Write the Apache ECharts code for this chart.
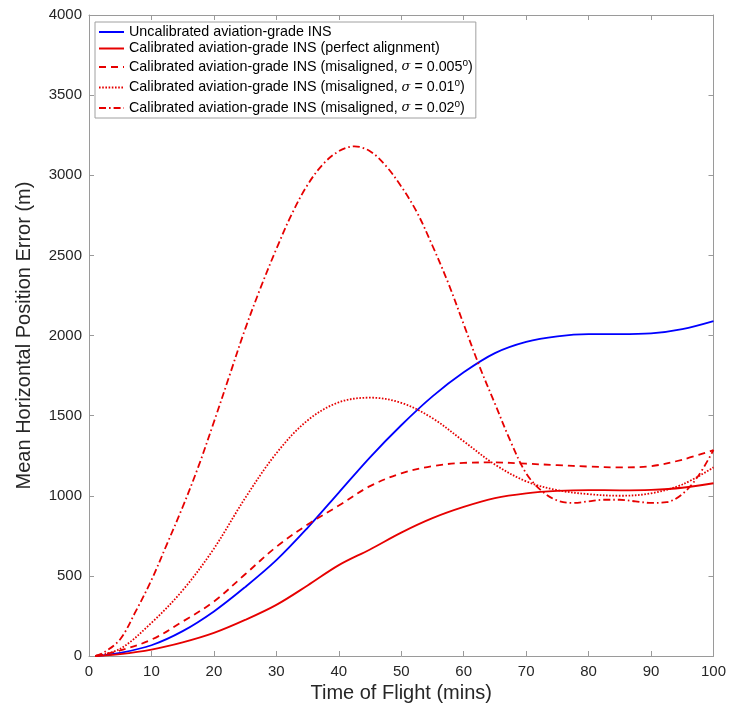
<!DOCTYPE html>
<html>
<head>
<meta charset="utf-8">
<script src="https://cdn.jsdelivr.net/npm/echarts@6/dist/echarts.min.js"></script>
<style>
html,body{margin:0;padding:0;background:#fff;}
#chart{width:729px;height:713px;}
</style>
</head>
<body>
<div id="chart"></div>
<script>
// Time of flight (mins)
var tCoarse = [1, 5, 10, 15, 20, 25, 30, 35, 40, 45, 50, 55, 60, 65, 70, 75, 80, 85, 90, 95, 100];
var tFine = [1, 2.5, 5, 7.5, 10, 12.5, 15, 17.5, 20, 22.5, 25, 27.5, 30, 32.5, 35, 37.5, 40, 42.5, 45, 47.5, 50, 52.5, 55, 57.5, 60, 62.5, 65, 67.5, 70, 72.5, 75, 77.5, 80, 82.5, 85, 87.5, 90, 92.5, 95, 97.5, 100];

// Mean horizontal position error (m)
var uncalibrated = [0, 20, 67, 155, 278, 430, 598, 800, 1020, 1240, 1440, 1620, 1770, 1890, 1960, 1995, 2008, 2008, 2013, 2040, 2090];
var calibratedPerfect = [0, 12, 40, 85, 144, 225, 319, 440, 567, 665, 770, 860, 930, 985, 1015, 1030, 1035, 1034, 1037, 1050, 1078];
var misaligned005 = [0, 35, 102, 215, 340, 510, 681, 820, 939, 1060, 1140, 1185, 1205, 1208, 1200, 1191, 1182, 1177, 1185, 1225, 1285];
var misaligned01 = [0, 45, 207, 410, 670, 985, 1265, 1470, 1583, 1612, 1580, 1484, 1340, 1195, 1090, 1035, 1010, 1000, 1015, 1070, 1177];
var misaligned02 = [0, 25, 105, 280, 474, 700, 930, 1180, 1460, 1750, 2040, 2300, 2540, 2760, 2940, 3070, 3150, 3180, 3150, 3060, 2930, 2770, 2560, 2330, 2070, 1810, 1575, 1340, 1140, 1030, 970, 955, 965, 975, 975, 965, 955, 960, 1010, 1120, 1285];

var xTicks = {min: 0, max: 100, interval: 10};
var yTicks = {min: 0, max: 4000, interval: 500};

var seriesNames = [
  'Uncalibrated aviation-grade INS',
  'Calibrated aviation-grade INS (perfect alignment)',
  'Calibrated aviation-grade INS (misaligned, σ = 0.005°)',
  'Calibrated aviation-grade INS (misaligned, σ = 0.01°)',
  'Calibrated aviation-grade INS (misaligned, σ = 0.02°)'
];
var sigmaValues = [null, null, '0.005', '0.01', '0.02'];

function pairs(xs, ys) {
  var out = [];
  for (var i = 0; i < xs.length; i++) out.push([xs[i], ys[i]]);
  return out;
}

var BLUE = '#0000ff';
var RED = '#e60000';
var FONT = '"Liberation Sans", Arial, Helvetica, sans-serif';
var AXIS_GRAY = '#9a9a9a';
var TEXT = '#262626';

var chart = echarts.init(document.getElementById('chart'), null, {renderer: 'canvas'});

function mkSeries(name, data, color, type) {
  return {
    name: name,
    type: 'line',
    data: data,
    xAxisIndex: 0,
    yAxisIndex: 0,
    symbol: 'none',
    showSymbol: false,
    smooth: 0.35,
    lineStyle: {color: color, width: 1.8, type: type},
    itemStyle: {color: color},
    animation: false
  };
}

function plain(v) { return String(v); }

function axisBase(t) {
  return {
    type: 'value', min: t.min, max: t.max, interval: t.interval,
    axisLine: {show: true, onZero: false, lineStyle: {color: AXIS_GRAY, width: 1}},
    axisTick: {show: true, inside: true, length: 5, lineStyle: {color: AXIS_GRAY}},
    splitLine: {show: false}
  };
}

var option = {
  backgroundColor: '#ffffff',
  animation: false,
  textStyle: {fontFamily: FONT},
  grid: {left: 89, right: 12, top: 15, bottom: 57, containLabel: false},
  legend: {
    orient: 'vertical',
    left: 95,
    top: 22,
    padding: [3, 3, 1, 3],
    itemGap: 2.5,
    itemWidth: 25,
    itemHeight: 12,
    backgroundColor: '#ffffff',
    borderColor: '#a0a0a0',
    borderWidth: 1,
    itemStyle: {opacity: 0},
    data: seriesNames,
    formatter: function (name) {
      var idx = seriesNames.indexOf(name);
      if (sigmaValues[idx] === null) return '{t|' + name + '}';
      return '{t|Calibrated aviation-grade INS (misaligned, }{s|σ}{t| = ' + sigmaValues[idx] + '}{sup|o}{t|)}';
    },
    textStyle: {
      fontFamily: FONT,
      fontSize: 14.3,
      color: '#000000',
      rich: {
        t: {fontFamily: FONT, fontSize: 14.3, color: '#000', lineHeight: 16},
        s: {fontFamily: '"DejaVu Serif", "Liberation Serif", serif', fontStyle: 'italic', fontSize: 13, color: '#000', lineHeight: 16},
        sup: {fontFamily: FONT, fontSize: 10, color: '#000', lineHeight: 10, padding: [0, 0, 8, 0]}
      }
    }
  },
  xAxis: [
    Object.assign(axisBase(xTicks), {
      position: 'bottom',
      name: 'Time of Flight (mins)',
      nameLocation: 'middle',
      nameGap: 25,
      nameTextStyle: {fontFamily: FONT, fontSize: 20, color: TEXT},
      axisLabel: {show: true, margin: 8, fontFamily: FONT, fontSize: 15, color: TEXT, formatter: plain}
    }),
    Object.assign(axisBase(xTicks), {
      position: 'top',
      axisLabel: {show: false}
    })
  ],
  yAxis: [
    Object.assign(axisBase(yTicks), {
      position: 'left',
      name: 'Mean Horizontal Position Error (m)',
      nameLocation: 'middle',
      nameGap: 55,
      nameTextStyle: {fontFamily: FONT, fontSize: 20, color: TEXT},
      axisLabel: {show: true, margin: 7, fontFamily: FONT, fontSize: 15, color: TEXT, formatter: plain}
    }),
    Object.assign(axisBase(yTicks), {
      position: 'right',
      axisLabel: {show: false}
    })
  ],
  series: [
    mkSeries(seriesNames[0], pairs(tCoarse, uncalibrated), BLUE, 'solid'),
    mkSeries(seriesNames[1], pairs(tCoarse, calibratedPerfect), RED, 'solid'),
    mkSeries(seriesNames[2], pairs(tCoarse, misaligned005), RED, [7, 5]),
    mkSeries(seriesNames[3], pairs(tCoarse, misaligned01), RED, [1.6, 1.6]),
    mkSeries(seriesNames[4], pairs(tFine, misaligned02), RED, [7, 3, 1.6, 3])
  ]
};
chart.setOption(option);
</script>
</body>
</html>
